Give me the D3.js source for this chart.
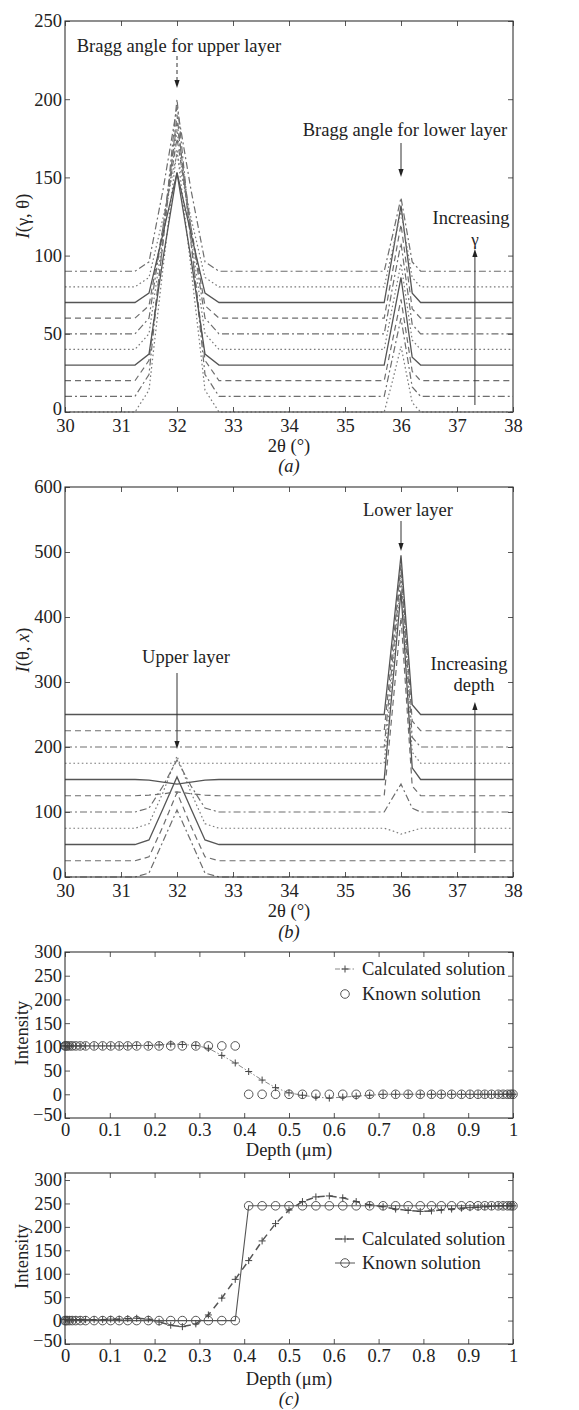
<!DOCTYPE html>
<html><head><meta charset="utf-8">
<script src="https://cdn.jsdelivr.net/npm/d3@7"></script>
<style>
body{margin:0;background:#fff}
text{font-family:"Liberation Serif","Times New Roman",serif;fill:#222}
</style>
</head><body>
<svg id="chart" width="579" height="1410"></svg>
<script>
// ---------- Panel (a): I(gamma, theta) ----------
const thetaGrid = [30, 31.25, 31.5, 31.75, 32, 32.25, 32.5, 32.75, 35.7, 35.85, 36, 36.2, 36.35, 38];
const gammaStyles = ["dot","dashdot","dash","solid","dot","dashdot","dash","solid","dot","dashdot"];
const gammaCurves = [
  [0, 0, 14, 92, 168, 92, 14, 0, 0, 20, 42, 6, 0, 0],
  [10, 10, 24, 110, 200, 110, 24, 10, 10, 35, 60, 16, 10, 10],
  [20, 20, 33, 108, 190, 108, 33, 20, 20, 46, 72, 26, 20, 20],
  [30, 30, 37, 98, 153, 98, 37, 30, 30, 58, 86, 35, 30, 30],
  [40, 40, 50, 112, 180, 112, 50, 40, 40, 68, 95, 46, 40, 40],
  [50, 50, 60, 118, 185, 118, 60, 50, 50, 80, 108, 56, 50, 50],
  [60, 60, 68, 118, 175, 118, 68, 60, 60, 90, 120, 66, 60, 60],
  [70, 70, 76, 114, 153, 114, 76, 70, 70, 101, 132, 76, 70, 70],
  [80, 80, 86, 124, 165, 124, 86, 80, 80, 104, 128, 86, 80, 80],
  [90, 90, 96, 142, 195, 142, 96, 90, 90, 113, 137, 96, 90, 90]
];
const thetaTicks = [30, 31, 32, 33, 34, 35, 36, 37, 38];
const yTicksA = [0, 50, 100, 150, 200, 250];

// ---------- Panel (b): I(theta, x) ----------
const depthStyles = ["dashdot","dash","solid","dot","dashdot","dash","solid","dot","dashdot","dash","solid"];
const depthCurves = [
  [0, 0, 6, 55, 103, 55, 6, 0, 0, 0, 0, 0, 0, 0],
  [25, 25, 31, 78, 130, 78, 31, 25, 25, 25, 25, 25, 25, 25],
  [50, 50, 57, 105, 154, 105, 57, 50, 50, 50, 50, 50, 50, 50],
  [75, 75, 82, 130, 186, 130, 82, 75, 75, 71, 66, 71, 75, 75],
  [100, 100, 106, 140, 180, 140, 106, 100, 100, 122, 143, 106, 100, 100],
  [125, 125, 126, 128, 131, 128, 126, 125, 125, 260, 400, 140, 125, 125],
  [150, 150, 149, 146, 143, 146, 149, 150, 150, 295, 440, 168, 150, 150],
  [175, 175, 175, 175, 175, 175, 175, 175, 175, 318, 460, 192, 175, 175],
  [200, 200, 200, 200, 200, 200, 200, 200, 200, 335, 470, 215, 200, 200],
  [225, 225, 225, 225, 225, 225, 225, 225, 225, 352, 480, 240, 225, 225],
  [250, 250, 250, 250, 250, 250, 250, 250, 250, 372, 495, 265, 250, 250]
];
const yTicksB = [0, 100, 200, 300, 400, 500, 600];

// ---------- Panel (c): depth profiles ----------
const depth = [0, 0.002, 0.005, 0.01, 0.016, 0.024, 0.034, 0.046, 0.065, 0.084, 0.102, 0.121, 0.14, 0.16, 0.186, 0.21, 0.236, 0.262, 0.292, 0.32, 0.35, 0.38, 0.41, 0.44, 0.47, 0.5, 0.53, 0.56, 0.59, 0.62, 0.65, 0.68, 0.71, 0.738, 0.766, 0.793, 0.818, 0.84, 0.863, 0.885, 0.904, 0.922, 0.937, 0.952, 0.967, 0.978, 0.988, 0.995, 1];
const knownUpper = [102,102,102,102,102,102,102,102,102,102,102,102,102,102,102,102,102,102,102,102,102,102, 0,0,0,0,0,0,0,0,0,0,0,0,0,0,0,0,0,0,0,0,0,0,0,0,0,0,0];
const calcUpper = [102,102,102,102,102,102,102,102,102,102,102,102,102,103,103,104,106,105,103,97,82,66, 48,30,14,3,-2,-6,-8,-6,-4,-2,0,0,0,0,0,0,0,0,0,0,0,0,0,0,0,0,0];
const knownLower = [0,0,0,0,0,0,0,0,0,0,0,0,0,0,0,0,0,0,0,0,0,0, 245,245,245,245,245,245,245,245,245,245,245,245,245,245,245,245,245,245,245,245,245,245,245,245,245,245,245];
const calcLower = [2,2,2,2,2,2,2,2,2,2,3,3,4,5,3,-3,-10,-13,-7,12,48,88, 128,170,207,236,254,264,266,262,254,247,243,238,235,233,234,236,238,240,241,242,243,244,245,245,245,245,245];
const depthTicks = [0, 0.1, 0.2, 0.3, 0.4, 0.5, 0.6, 0.7, 0.8, 0.9, 1];
const depthTickLabels = ["0", "0.1", "0.2", "0.3", "0.4", "0.5", "0.6", "0.7", "0.8", "0.9", "1"];
const yTicksC = [-50, 0, 50, 100, 150, 200, 250, 300];

// ---------- drawing ----------
const svg = d3.select("#chart");
const FS = 18.5;
const dashes = {solid: null, dash: "6,4", dashdot: "7,3,2,3", dot: "1.6,2.6"};
const strokeFor = {solid: "#555", dash: "#6e6e6e", dashdot: "#6e6e6e", dot: "#7a7a7a"};
const L = 65, R = 513;

function frame(x, y, xt, yt, opts) {
  const g = svg.append("g");
  const [y0, y1] = y.range();
  const fmtX = opts.fmtX || (d => String(d));
  g.append("g").attr("transform", `translate(0,${y0})`)
    .call(d3.axisBottom(x).tickValues(xt).tickSize(-5).tickPadding(opts.padX).tickFormat(fmtX));
  g.append("g").attr("transform", `translate(0,${y1})`)
    .call(d3.axisTop(x).tickValues(xt).tickSize(-5).tickFormat(""));
  const yl = g.append("g").attr("transform", `translate(${L},0)`)
    .call(d3.axisLeft(y).tickValues(yt).tickSize(-5).tickPadding(3).tickFormat(d => d < 0 ? "\u2212" + (-d) : String(d)));
  yl.selectAll(".tick text").filter(d => d === yt[0]).attr("dy", "0.12em");
  g.append("g").attr("transform", `translate(${R},0)`)
    .call(d3.axisRight(y).tickValues(yt).tickSize(-5).tickFormat(""));
  g.selectAll(".domain").remove();
  g.selectAll(".tick line").attr("stroke", "#444").attr("stroke-width", 0.9);
  g.selectAll(".tick text").attr("font-size", FS).attr("font-family", "Liberation Serif").attr("fill", "#222");
  g.append("rect").attr("x", L).attr("y", y1).attr("width", R - L).attr("height", y0 - y1)
    .attr("fill", "none").attr("stroke", "#333").attr("stroke-width", 1.1);
  return g;
}

function arrow(x, yFrom, yTo, dash) {
  svg.append("line").attr("x1", x).attr("x2", x).attr("y1", yFrom).attr("y2", yTo - (yTo > yFrom ? 6 : -6))
    .attr("stroke", "#333").attr("stroke-width", 1).attr("stroke-dasharray", dash || null);
  const d = yTo > yFrom ? -1 : 1;
  svg.append("path").attr("d", `M${x},${yTo} L${x - 2.6},${yTo + d * 8} L${x + 2.6},${yTo + d * 8} Z`).attr("fill", "#222");
}

function label(x, y, str, opts = {}) {
  const t = svg.append("text").attr("x", x).attr("y", y).attr("font-size", opts.fs || FS)
    .attr("text-anchor", opts.anchor || "middle");
  if (opts.italic) t.attr("font-style", "italic");
  t.text(str);
  return t;
}

function ylabel(x, y, parts) {
  const t = svg.append("text").attr("transform", `translate(${x},${y}) rotate(-90)`)
    .attr("text-anchor", "middle").attr("font-size", FS);
  parts.forEach(p => t.append("tspan").attr("font-style", p[1] ? "italic" : "normal").text(p[0]));
}

function drawCurves(xs, ys, grid, curves, styles) {
  const line = d3.line().x((d, i) => xs(grid[i])).y(d => ys(d));
  svg.append("g").selectAll("path").data(curves).join("path")
    .attr("d", line).attr("fill", "none")
    .attr("stroke", (d, i) => strokeFor[styles[i]])
    .attr("stroke-width", (d, i) => styles[i] === "solid" ? 1.3 : 1.2)
    .attr("stroke-dasharray", (d, i) => dashes[styles[i]]);
}

// Panel (a)
const xA = d3.scaleLinear().domain([30, 38]).range([L, R]);
const yA = d3.scaleLinear().domain([0, 250]).range([412, 21]);
drawCurves(xA, yA, thetaGrid, gammaCurves, gammaStyles);
frame(xA, yA, thetaTicks, yTicksA, {padX: 7});
label(179, 52, "Bragg angle for upper layer");
arrow(xA(32), 56, 88, "4,3");
label(405, 136, "Bragg angle for lower layer");
arrow(xA(36), 143, 177);
label(471, 224, "Increasing");
label(xA(37.32), 245, "\u03b3", {fs: 17});
arrow(xA(37.32), 405, 249);
label(289, 452, "2\u03b8 (\u00b0)");
label(289, 472, "(a)", {italic: true});
ylabel(29, 216, [["I", true], ["(\u03b3, \u03b8)", false]]);

// Panel (b)
const yB = d3.scaleLinear().domain([0, 600]).range([877, 487]);
const xB = xA.copy();
drawCurves(xB, yB, thetaGrid, depthCurves, depthStyles);
frame(xB, yB, thetaTicks, yTicksB, {padX: 7});
label(408, 516, "Lower layer");
arrow(xB(36), 521, 551);
label(186, 663, "Upper layer");
arrow(xB(32), 673, 749);
label(469, 670, "Increasing");
label(474, 691, "depth");
arrow(xB(37.32), 853, 702);
label(289, 917, "2\u03b8 (\u00b0)");
label(289, 938, "(b)", {italic: true});
ylabel(29, 650, [["I", true], ["(\u03b8, ", false], ["x", true], [")", false]]);

// Panel (c) helper
function depthPanel(yTop, yBot, yMax, calc, known, opt) {
  const x = d3.scaleLinear().domain([0, 1]).range([L, R]);
  const y = d3.scaleLinear().domain([-50, yMax]).range([yBot, yTop]);
  const line = d3.line().x((d, i) => x(depth[i])).y(d => y(d));
  const g = svg.append("g");
  if (opt.knownLine) g.append("path").attr("d", line(known)).attr("fill", "none").attr("stroke", "#555").attr("stroke-width", 1.1);
  g.append("path").attr("d", line(calc)).attr("fill", "none").attr("stroke", opt.calcColor)
    .attr("stroke-width", opt.calcWidth).attr("stroke-dasharray", opt.calcDash);
  g.selectAll("circle").data(known).join("circle")
    .attr("cx", (d, i) => x(depth[i])).attr("cy", d => y(d)).attr("r", 4.3)
    .attr("fill", "none").attr("stroke", "#555").attr("stroke-width", 1);
  g.selectAll(".plus").data(calc).join("path").attr("class", "plus")
    .attr("d", (d, i) => { const cx = x(depth[i]), cy = y(d); return `M${cx - 3.5},${cy}H${cx + 3.5}M${cx},${cy - 3.5}V${cy + 3.5}`; })
    .attr("stroke", "#444").attr("stroke-width", 1);
  frame(x, y, depthTicks, yTicksC, {padX: 5, fmtX: (d, i) => depthTickLabels[i]});
  const lx = 345, ly1 = opt.legY, ly2 = opt.legY + opt.legGap;
  svg.append("line").attr("x1", lx - 10).attr("x2", lx + 10).attr("y1", ly1).attr("y2", ly1)
    .attr("stroke", opt.calcColor).attr("stroke-width", opt.calcWidth).attr("stroke-dasharray", opt.calcDash);
  svg.append("path").attr("d", `M${lx - 3.5},${ly1}H${lx + 3.5}M${lx},${ly1 - 3.5}V${ly1 + 3.5}`).attr("stroke", "#444");
  if (opt.knownLine) svg.append("line").attr("x1", lx - 10).attr("x2", lx + 10).attr("y1", ly2).attr("y2", ly2).attr("stroke", "#555");
  svg.append("circle").attr("cx", lx).attr("cy", ly2).attr("r", 4.3).attr("fill", "none").attr("stroke", "#555");
  label(362, ly1 + 6, "Calculated solution", {anchor: "start"});
  label(362, ly2 + 6, "Known solution", {anchor: "start"});
  ylabel(28, (yTop + yBot) / 2 - 2, [["Intensity", false]]);
  label(289, opt.xlabY, "Depth (\u03bcm)");
}

depthPanel(952, 1118, 300, calcUpper, knownUpper, {knownLine: false, calcColor: "#888", calcWidth: 1, calcDash: "5,2,1.5,2", legY: 969, legGap: 25, xlabY: 1156});
depthPanel(1173, 1344, 315, calcLower, knownLower, {knownLine: true, calcColor: "#555", calcWidth: 1.5, calcDash: "7,5", legY: 1239, legGap: 24, xlabY: 1385});
label(289, 1405, "(c)", {italic: true});
</script>
</body></html>
